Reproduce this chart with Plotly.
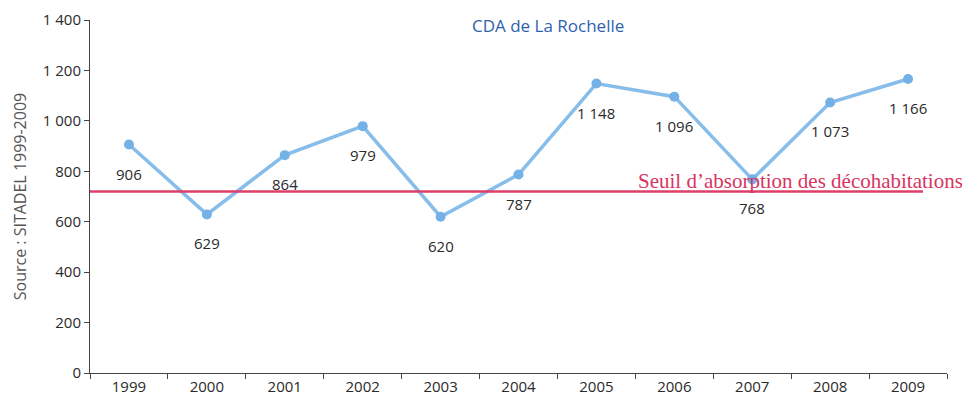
import plotly.graph_objects as go

years = ["1999", "2000", "2001", "2002", "2003", "2004", "2005", "2006", "2007", "2008", "2009"]
values = [906, 629, 864, 979, 620, 787, 1148, 1096, 768, 1073, 1166]
value_labels = ["906", "629", "864", "979", "620", "787", "1 148", "1 096", "768", "1 073", "1 166"]
threshold = 720
threshold_label = "Seuil d’absorption des décohabitations"
title_text = "CDA de La Rochelle"
y_title = "Source : SITADEL 1999-2009"

fig = go.Figure()
fig.add_trace(go.Scatter(
    x=years, y=values, mode="lines+markers",
    line=dict(color="#86BDEA", width=3.5),
    marker=dict(color="#74B1E6", size=10),
    hoverinfo="x+y", showlegend=False,
))

fig.add_shape(type="line", xref="paper", yref="y", x0=0, x1=0.972,
              y0=threshold, y1=threshold,
              line=dict(color="#DE3F68", width=2.5))

annotations = []
for i, (v, lab) in enumerate(zip(values, value_labels)):
    annotations.append(dict(
        x=i, y=v, text=lab, showarrow=False, xref="x", yref="y",
        yshift=-29,
        font=dict(family="Open Sans, Noto Sans, sans-serif", size=15, color="#2a2a2a"),
    ))
annotations.append(dict(
    x=1.021, y=threshold, xref="paper", yref="y", xanchor="right", yanchor="bottom",
    text=threshold_label, showarrow=False, yshift=-4,
    font=dict(family="Liberation Serif, Times New Roman, serif", size=21, color="#D8345F"),
))
annotations.append(dict(
    x=0.535, y=1.0, xref="paper", yref="paper", xanchor="center", yanchor="top",
    text=title_text, showarrow=False, yshift=8,
    font=dict(family="Open Sans, sans-serif", size=17, color="#2E62B0"),
))

fig.update_layout(
    width=954, height=396,
    margin=dict(l=82, r=15, t=12, b=31),
    paper_bgcolor="white", plot_bgcolor="white",
    separators=", ",
    annotations=annotations,
    xaxis=dict(
        type="category", range=[-0.5, 10.5], tickson="boundaries",
        ticks="outside", ticklen=5, tickcolor="#444444",
        showline=True, linecolor="#444444", linewidth=1, showgrid=False,
        tickfont=dict(family="Open Sans, sans-serif", size=15, color="#2a2a2a"),
        automargin=False,
    ),
    yaxis=dict(
        range=[0, 1400], dtick=200, tickformat=",d",
        ticks="outside", ticklen=5, tickcolor="#444444",
        showline=True, linecolor="#444444", linewidth=1, showgrid=False, zeroline=False,
        tickfont=dict(family="Open Sans, sans-serif", size=15, color="#2a2a2a"),
        automargin=False,
        title=dict(text=y_title, standoff=12,
                   font=dict(family="Open Sans, sans-serif", size=16, color="#555555")),
    ),
)

fig.write_html("out.html")
